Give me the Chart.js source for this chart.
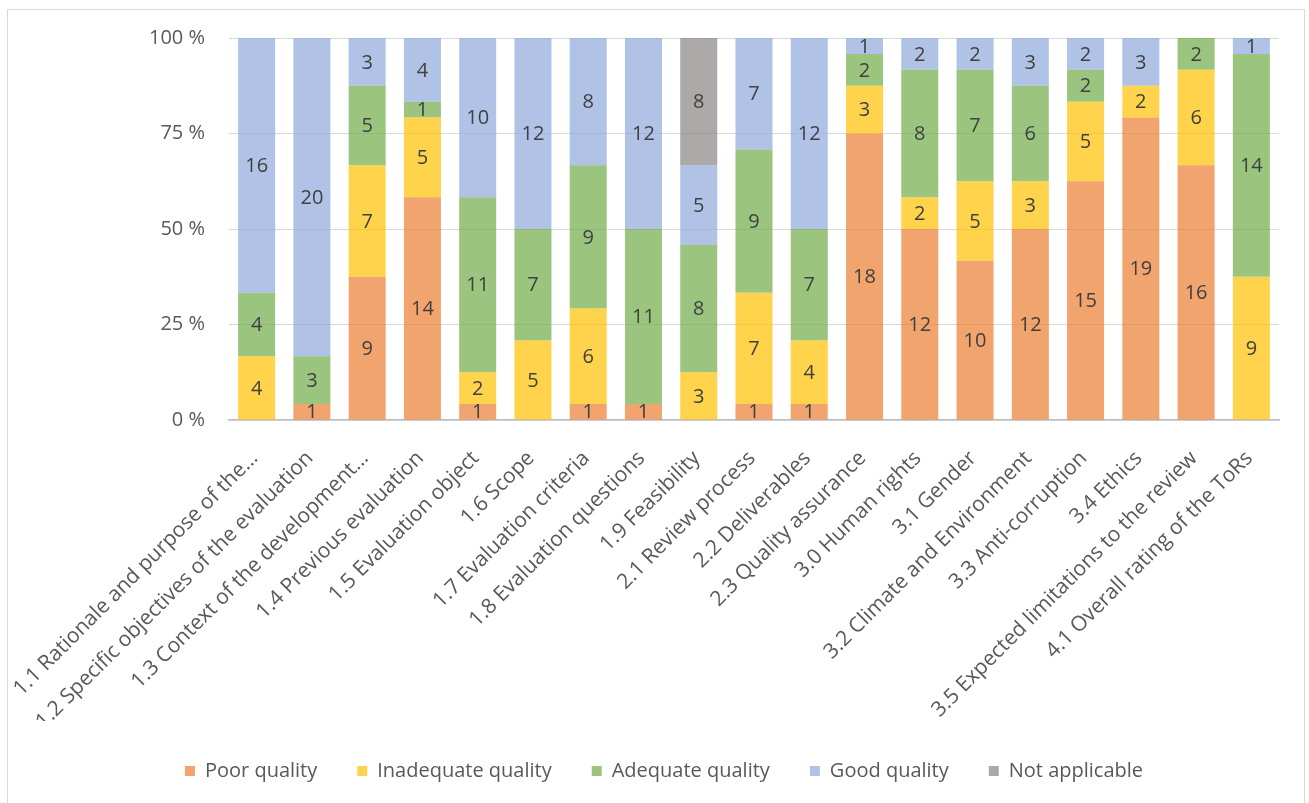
<!DOCTYPE html>
<html lang="en">
<head>
<meta charset="UTF-8" />
<title>ToR quality ratings</title>
<script src="https://cdn.jsdelivr.net/npm/chart.js"></script>
<style>
  html, body { margin: 0; padding: 0; background: #fff; }
  #wrap { position: relative; width: 1309px; height: 803px; }
  #frame {
    position: absolute; left: 7px; top: 9px; width: 1298px; height: 800px;
    border: 1px solid #d9d9d9; box-sizing: border-box;
  }
  canvas { position: absolute; left: 0; top: 0; }
</style>
</head>
<body>
<div id="wrap">
  <div id="frame"></div>
  <canvas id="chart" width="1309" height="803"></canvas>
</div>
<script>
const categories = [
  "1.1 Rationale and purpose of the…",
  "1.2 Specific objectives of the evaluation",
  "1.3 Context of the development…",
  "1.4 Previous evaluation",
  "1.5 Evaluation object",
  "1.6 Scope",
  "1.7 Evaluation criteria",
  "1.8 Evaluation questions",
  "1.9 Feasibility",
  "2.1 Review process",
  "2.2 Deliverables",
  "2.3 Quality assurance",
  "3.0 Human rights",
  "3.1 Gender",
  "3.2 Climate and Environment",
  "3.3 Anti-corruption",
  "3.4 Ethics",
  "3.5 Expected limitations to the review",
  "4.1 Overall rating of the ToRs"
];

// number of ToRs per rating
const poor       = [0, 1, 9, 14, 1, 0, 1, 1, 0, 1, 1, 18, 12, 10, 12, 15, 19, 16, 0];
const inadequate = [4, 0, 7, 5, 2, 5, 6, 0, 3, 7, 4, 3, 2, 5, 3, 5, 2, 6, 9];
const adequate   = [4, 3, 5, 1, 11, 7, 9, 11, 8, 9, 7, 2, 8, 7, 6, 2, 0, 2, 14];
const good       = [16, 20, 3, 4, 10, 12, 8, 12, 5, 7, 12, 1, 2, 2, 3, 2, 3, 0, 1];
const notApplic  = [0, 0, 0, 0, 0, 0, 0, 0, 8, 0, 0, 0, 0, 0, 0, 0, 0, 0, 0];

const seriesNames = ["Poor quality", "Inadequate quality", "Adequate quality", "Good quality", "Not applicable"];
const seriesCounts = [poor, inadequate, adequate, good, notApplic];
const seriesColors = [
  "rgba(237,125,49,0.7)",
  "rgba(255,192,0,0.7)",
  "rgba(112,173,71,0.7)",
  "rgba(143,170,220,0.7)",
  "rgba(138,132,132,0.7)"
];
const yTicks = [0, 25, 50, 75, 100];

const totals = categories.map((c, i) => seriesCounts.reduce((s, arr) => s + arr[i], 0));

const FONT = "'Open Sans', sans-serif";
const TEXT = "#595959";

// writes the count in the middle of each stacked segment
const segmentLabels = {
  id: "segmentLabels",
  afterDatasetsDraw(chart) {
    const ctx = chart.ctx;
    ctx.save();
    ctx.font = "20px " + FONT;
    ctx.fillStyle = "#404040";
    ctx.textAlign = "center";
    ctx.textBaseline = "middle";
    chart.data.datasets.forEach((ds, di) => {
      const meta = chart.getDatasetMeta(di);
      meta.data.forEach((bar, i) => {
        const n = ds.counts[i];
        if (!n) return;
        const { x, y, base } = bar.getProps(["x", "y", "base"], true);
        ctx.fillText(String(n), x, (y + base) / 2 + 1);
      });
    });
    ctx.restore();
  }
};

new Chart(document.getElementById("chart"), {
  type: "bar",
  data: {
    labels: categories,
    datasets: seriesNames.map((name, k) => ({
      label: name,
      counts: seriesCounts[k],
      data: seriesCounts[k].map((v, i) => v / totals[i] * 100),
      backgroundColor: seriesColors[k],
      borderWidth: 0,
      barPercentage: 0.67,
      categoryPercentage: 1.0
    }))
  },
  options: {
    responsive: false,
    animation: false,
    layout: { padding: { top: 38, right: 30, left: 49, bottom: 12 } },
    scales: {
      x: {
        stacked: true,
        grid: { display: false, drawTicks: false },
        border: { color: "#bfbfbf", width: 1.5 },
        ticks: {
          color: TEXT,
          font: { family: FONT, size: 21 },
          minRotation: 45,
          maxRotation: 45,
          autoSkip: false,
          padding: 26,
          labelOffset: -2
        },
        afterFit(scale) {
          scale.height = 301;
          // long rotated labels may overhang the plot on the left
          scale.paddingLeft = 0;
          scale.paddingRight = 0;
        }
      },
      y: {
        stacked: true,
        min: 0,
        max: 100,
        grid: { color: "#d9d9d9", drawTicks: false },
        border: { display: false },
        ticks: {
          stepSize: 25,
          color: TEXT,
          font: { family: FONT, size: 20 },
          padding: 24,
          callback: v => yTicks.includes(v) ? v + " %" : ""
        },
        afterFit(scale) { scale.width = 180; }
      }
    },
    plugins: {
      legend: {
        position: "bottom",
        labels: {
          usePointStyle: true,
          pointStyle: "rect",
          boxWidth: 10,
          boxHeight: 10,
          padding: 40,
          color: TEXT,
          font: { family: FONT, size: 20 }
        }
      },
      tooltip: { enabled: false }
    }
  },
  plugins: [segmentLabels]
});
</script>
</body>
</html>
